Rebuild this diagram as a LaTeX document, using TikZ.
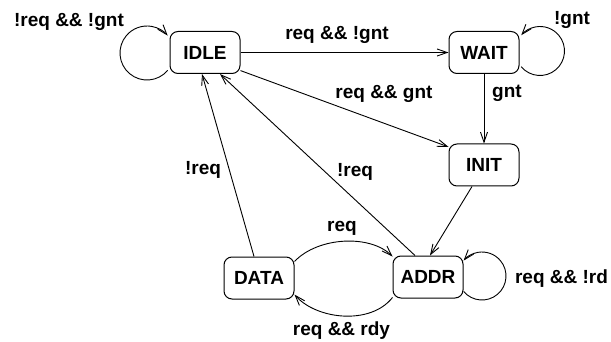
\documentclass[tikz,border=0pt]{standalone}
\usepackage{fontspec}
\setmainfont{Liberation Sans}
\usetikzlibrary{arrows.meta}
\begin{document}
\begin{tikzpicture}[x=1pt,y=-1pt,
  state/.style={draw, line width=1pt, rounded corners=8pt, minimum width=70pt, minimum height=42pt, inner sep=0pt, font=\fontsize{19}{22}\selectfont\bfseries},
  lbl/.style={anchor=base, inner sep=0pt, font=\fontsize{19}{22}\selectfont\bfseries},
  arr/.style={line width=0.9pt, -{Straight Barb[length=10pt,width=7pt]}}]
\useasboundingbox (0,0) rectangle (611,342);
\node[state] (IDLE) at (205,52.5) {IDLE};
\node[state] (WAIT) at (484,52.5) {WAIT};
\node[state] (INIT) at (484,165) {INIT};
\node[state] (DATA) at (259,278) {DATA};
\node[state] (ADDR) at (428,277) {ADDR};
% self loops
\coordinate (cI) at (147,53);
\coordinate (cW) at (540,51);
\coordinate (cA) at (482,276);
\draw[arr] (cI) ++(40:27) arc[start angle=40,end angle=320,radius=27];
\draw[arr] (cW) ++(140:24.5) arc[start angle=140,end angle=-140,radius=24.5];
\draw[arr] (cA) ++(140:24) arc[start angle=140,end angle=-140,radius=24];
% straight edges
\draw[arr] (IDLE) -- (WAIT);
\draw[arr] (IDLE.-27) -- (INIT.153);
\draw[arr] (WAIT) -- (INIT);
\draw[arr] ([xshift=-12pt]INIT.south) -- ([xshift=2pt]ADDR.north);
\draw[arr] ([xshift=-13pt]ADDR.north) -- ([xshift=15pt]IDLE.south);
\draw[arr] ([xshift=-5pt]DATA.north) -- ([xshift=-3pt]IDLE.south);
% curved edges
\draw[arr] (DATA.25) .. controls +(24,-25) and +(-22,-22) .. (ADDR.150);
\draw[arr] (ADDR.-150) .. controls +(-22,28) and +(22,25) .. (DATA.-25);
% labels
\node[lbl] (l1) at (69,27) {!req \&\& !gnt};
\node[lbl] (l2) at (337,40) {req \&\& !gnt};
\node[lbl] (l3) at (572,24.5) {!gnt};
\node[lbl] (l4) at (507,98) {gnt};
\node[lbl] (l5) at (384,99) {req \&\& gnt};
\node[lbl] (l6) at (355,177) {!req};
\node[lbl] (l7) at (203,175) {!req};
\node[lbl] (l8) at (342,232) {req};
\node[lbl] (l9) at (341.5,335) {req \&\& rdy};
\node[lbl] (l10) at (561.5,283) {req \&\& !rd};
\end{tikzpicture}
\end{document}
